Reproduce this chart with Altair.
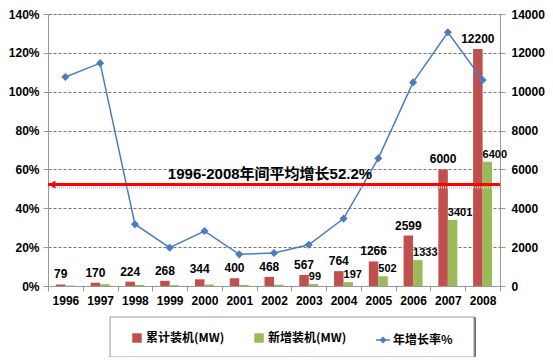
import altair as alt
import pandas as pd

years = ["1996", "1997", "1998", "1999", "2000", "2001", "2002",
         "2003", "2004", "2005", "2006", "2007", "2008"]
cumulative = [79, 170, 224, 268, 344, 400, 468, 567, 764, 1266, 2599, 6000, 12200]
added = [25, 91, 54, 44, 76, 56, 68, 99, 197, 502, 1333, 3401, 6400]
added_labels = ["", "", "", "", "", "", "", "99", "197", "502", "1333", "3401", "6400"]
growth = [1.076, 1.147, 0.318, 0.197, 0.283, 0.163, 0.170, 0.212, 0.347, 0.657, 1.048, 1.306, 1.060]
avg_growth = [0.522]
avg_text = ["1996-2008年间平均增长52.2%"]
bar_series = ["累计装机(MW)", "新增装机(MW)"]
line_series = ["年增长率%"]

RED = "#C0504D"
GREEN = "#9BBB59"
BLUE = "#4A7EBB"
NUM_FONT = "Liberation Sans"
CJK_FONT = "Noto Sans CJK SC"
MIX_FONT = "Liberation Sans, Noto Sans CJK SC"

df = pd.DataFrame({"year": years, "cum": cumulative, "add": added,
                   "add_label": added_labels, "growth": growth,
                   "s_cum": [bar_series[0]] * len(years),
                   "s_add": [bar_series[1]] * len(years),
                   "s_line": [line_series[0]] * len(years)})
avg_df = pd.DataFrame({"v": avg_growth, "t": avg_text})

W, H = 452, 272
BW = 9.5

xenc = alt.X("year:N", sort=years, title=None,
             scale=alt.Scale(paddingInner=0, paddingOuter=0),
             axis=alt.Axis(tickBand="extent", labelAngle=0, labelFont=NUM_FONT,
                           labelFontWeight="bold", labelFontSize=12, labelColor="black",
                           domainColor="#999999", tickColor="#999999", tickSize=5,
                           labelPadding=4, grid=False))

right_axis = alt.Axis(orient="right", values=list(range(0, 14001, 2000)), grid=False,
                      labelFont=NUM_FONT, labelFontWeight="bold", labelFontSize=12,
                      labelColor="black", domainColor="#999999", tickColor="#999999",
                      tickSize=5, labelPadding=6, format="d")
right_scale = alt.Scale(domain=[0, 14000])

left_axis = alt.Axis(orient="left", values=[0, 0.2, 0.4, 0.6, 0.8, 1.0, 1.2, 1.4],
                     format=".0%", grid=True, gridColor="#777777", gridDash=[3, 2],
                     gridWidth=1, labelFont=NUM_FONT, labelFontWeight="bold",
                     labelFontSize=12, labelColor="black", domainColor="#999999",
                     tickColor="#999999", tickSize=5, labelPadding=4)
left_scale = alt.Scale(domain=[0, 1.4])

base = alt.Chart(df)

bar_legend = alt.Legend(orient="none", legendX=83, legendY=318, direction="horizontal",
                        title=None, symbolType="square", symbolSize=90,
                        symbolStrokeWidth=0, labelFont=CJK_FONT, labelFontWeight="bold",
                        labelFontSize=12, labelColor="black", columnPadding=28,
                        labelOffset=3, padding=0)
bar_color_scale = alt.Scale(domain=bar_series, range=[RED, GREEN])

red_bars = base.mark_bar(width=BW, xOffset=-BW / 2).encode(
    x=xenc,
    y=alt.Y("cum:Q", scale=right_scale, axis=right_axis, title=None),
    color=alt.Color("s_cum:N", scale=bar_color_scale, legend=bar_legend),
)
green_bars = base.mark_bar(width=BW, xOffset=BW / 2).encode(
    x=xenc,
    y=alt.Y("add:Q", scale=right_scale, axis=right_axis, title=None),
    color=alt.Color("s_add:N", scale=bar_color_scale, legend=bar_legend),
)
red_labels = base.mark_text(font=NUM_FONT, fontWeight="bold", fontSize=12,
                            baseline="bottom", dx=-BW / 2, dy=-3, color="black").encode(
    x=xenc,
    y=alt.Y("cum:Q", scale=right_scale, axis=right_axis, title=None),
    text="cum:Q",
)
green_labels = base.mark_text(font=NUM_FONT, fontWeight="bold", fontSize=11,
                              baseline="bottom", align="left", dx=0, dy=-2,
                              color="black").encode(
    x=xenc,
    y=alt.Y("add:Q", scale=right_scale, axis=right_axis, title=None),
    text="add_label:N",
)
bars_layer = alt.layer(red_bars, green_bars, red_labels, green_labels)

line_legend = alt.Legend(orient="none", legendX=327, legendY=318, direction="horizontal",
                         title=None, symbolType="M-1,0H1M0,-0.35L0.35,0L0,0.35L-0.35,0Z",
                         symbolSize=200, symbolStrokeWidth=1.5, symbolFillColor=BLUE,
                         labelFont=CJK_FONT, labelFontWeight="bold", labelFontSize=12,
                         labelColor="black", labelOffset=2, padding=0)

line = base.mark_line(strokeWidth=1.5,
                      point=alt.OverlayMarkDef(shape="diamond", size=28, filled=True,
                                               color=BLUE)).encode(
    x=xenc,
    y=alt.Y("growth:Q", scale=left_scale, axis=left_axis, title=None),
    stroke=alt.Stroke("s_line:N", scale=alt.Scale(domain=line_series, range=[BLUE]),
                      legend=line_legend),
)

avg = alt.Chart(avg_df)
shadow = avg.mark_rule(color="#cccccc", strokeWidth=2, yOffset=3, strokeDash=[1, 1]).encode(
    y=alt.Y("v:Q", scale=left_scale, axis=left_axis, title=None))
rule = avg.mark_rule(color="#FF0000", strokeWidth=3).encode(
    y=alt.Y("v:Q", scale=left_scale, axis=left_axis, title=None))
arrow = avg.mark_point(shape="triangle-left", filled=True, size=60, color="#FF0000",
                       opacity=1).encode(
    x=alt.value(4),
    y=alt.Y("v:Q", scale=left_scale, axis=left_axis, title=None))
avg_label = avg.mark_text(font=MIX_FONT, fontWeight="bold", fontSize=15, color="black",
                          baseline="middle", dy=-11).encode(
    x=alt.value(W / 2 - 4),
    y=alt.Y("v:Q", scale=left_scale, axis=left_axis, title=None),
    text="t:N")

frame_df = pd.DataFrame({"a": [0]})
frame_shadow = alt.Chart(frame_df).mark_rect(fillOpacity=0, stroke="#444444", strokeWidth=1.5).encode(
    x=alt.value(63), x2=alt.value(427), y=alt.value(304), y2=alt.value(344))
frame = alt.Chart(frame_df).mark_rect(fill="white", stroke="#999999", strokeWidth=1).encode(
    x=alt.value(62), x2=alt.value(426), y=alt.value(303), y2=alt.value(343))

line_layer = alt.layer(frame_shadow, frame, line, shadow, rule, arrow, avg_label)

chart = alt.layer(bars_layer, line_layer).resolve_scale(
    y="independent", stroke="independent"
).properties(
    width=W, height=H,
    autosize=alt.AutoSizeParams(type="none"),
    padding={"left": 40, "top": 6, "right": 45, "bottom": 71},
).configure_view(stroke=None).configure(background="white")

chart.save("out.html", embed_options={"renderer": "svg", "actions": False})
